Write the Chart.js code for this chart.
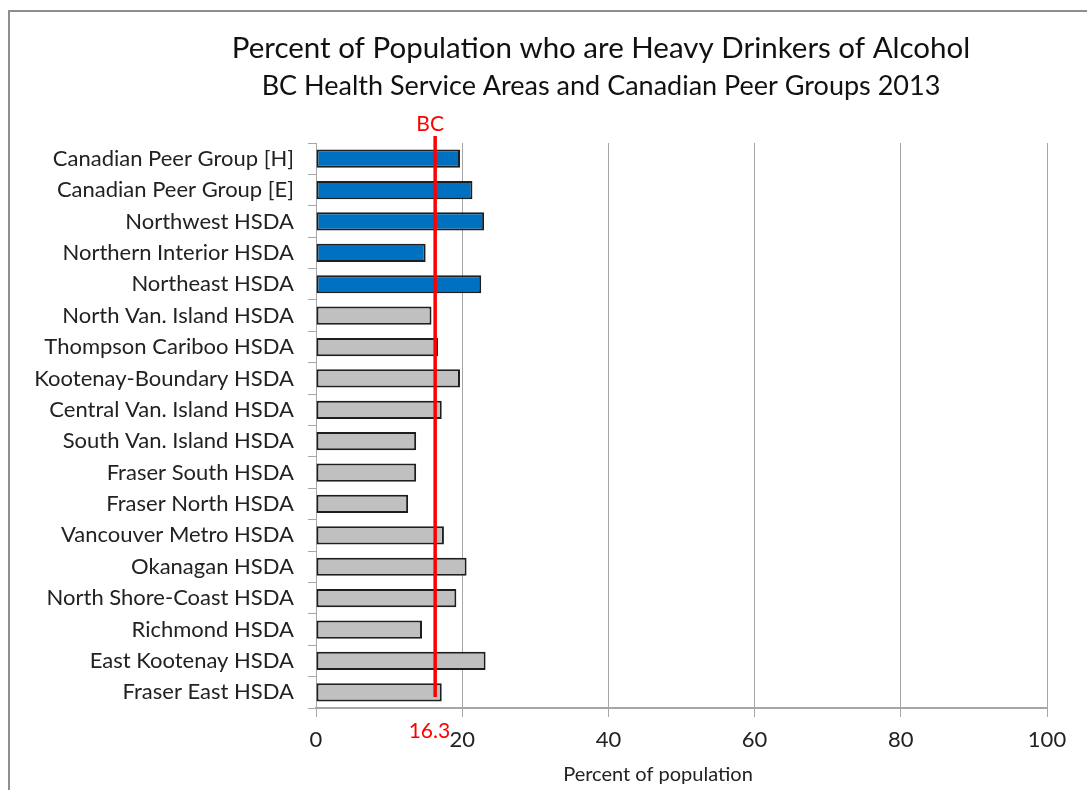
<!DOCTYPE html>
<html>
<head>
<meta charset="utf-8">
<script src="https://cdn.jsdelivr.net/npm/chart.js@4/dist/chart.umd.min.js"></script>
<style>
    html, body { margin: 0; padding: 0; background: #fff; overflow: hidden; }
    #frame { position: absolute; left: 8px; top: 10px; width: 1100px; height: 800px; border: 2px solid #8e8e8e; }
    #chartFluxo { position: absolute; left: 0; top: 0; }
</style>
</head>
<body>
<div id="frame"></div>
<canvas id="chartFluxo" width="1087" height="790"></canvas>
<script>
const regioes = [
    'Canadian Peer Group [H]', 'Canadian Peer Group [E]', 'Northwest HSDA', 'Northern Interior HSDA',
    'Northeast HSDA', 'North Van. Island HSDA', 'Thompson Cariboo HSDA', 'Kootenay-Boundary HSDA',
    'Central Van. Island HSDA', 'South Van. Island HSDA', 'Fraser South HSDA', 'Fraser North HSDA',
    'Vancouver Metro HSDA', 'Okanagan HSDA', 'North Shore-Coast HSDA', 'Richmond HSDA',
    'East Kootenay HSDA', 'Fraser East HSDA'
];
const percentuais = [19.7, 21.4, 23.0, 15.0, 22.6, 15.8, 16.7, 19.7, 17.2, 13.7, 13.7, 12.6, 17.5, 20.6, 19.2, 14.5, 23.2, 17.2];
// peer groups + northern HSDAs in blue, the rest gray
const destaque = [true, true, true, true, true, false, false, false, false, false, false, false, false, false, false, false, false, false];
const mediaBC = 16.3;
const ticksX = [0, 20, 40, 60, 80, 100];

const titulo = 'Percent of Population who are Heavy Drinkers of Alcohol';
const subtitulo = 'BC Health Service Areas and Canadian Peer Groups 2013';
const tituloEixoX = 'Percent of population';

const FONTE = "Lato, 'Open Sans', sans-serif";
const CINZA = '#a6a6a6';

// títulos desenhados à mão (o centro não é o do gráfico)
const textos = {
    id: 'textos',
    afterDraw: (chart) => {
        const ctx = chart.ctx;
        ctx.save();
        ctx.textAlign = 'center';
        ctx.textBaseline = 'middle';
        ctx.fillStyle = '#111';
        ctx.font = `29.5px ${FONTE}`;
        ctx.fillText(titulo, 601, 48);
        ctx.font = `27px ${FONTE}`;
        ctx.fillText(subtitulo, 601, 86);
        ctx.fillStyle = '#222';
        ctx.font = `20px ${FONTE}`;
        ctx.fillText(tituloEixoX, 658, 775);
        ctx.restore();
    }
};

// linha vertical vermelha do BC + rótulos
const linhaBC = {
    id: 'linhaBC',
    afterDatasetsDraw: (chart) => {
        const { ctx, chartArea, scales } = chart;
        const x = scales.x.getPixelForValue(mediaBC);
        ctx.save();
        ctx.strokeStyle = '#ff0000';
        ctx.lineWidth = 3.5;
        ctx.beginPath();
        ctx.moveTo(x, chartArea.top - 7);
        ctx.lineTo(x, chartArea.bottom - 11);
        ctx.stroke();
        ctx.fillStyle = '#ff0000';
        ctx.font = `21px ${FONTE}`;
        ctx.textBaseline = 'middle';
        ctx.textAlign = 'center';
        ctx.fillText('BC', x - 5, chartArea.top - 19);
        ctx.textAlign = 'right';
        ctx.fillText(String(mediaBC), x + 15, chartArea.bottom + 23);
        ctx.restore();
    }
};

new Chart(document.getElementById('chartFluxo'), {
    type: 'bar',
    data: {
        labels: regioes,
        datasets: [{
            data: percentuais,
            backgroundColor: destaque.map(d => d ? '#0070c0' : '#c0c0c0'),
            borderColor: '#1e1e1e',
            borderWidth: 2,
            borderSkipped: false,
            categoryPercentage: 1,
            barPercentage: 0.58
        }]
    },
    options: {
        indexAxis: 'y',
        responsive: false,
        animation: false,
        layout: { padding: { left: 0, right: 40, top: 143, bottom: 0 } },
        plugins: {
            legend: { display: false },
            tooltip: { enabled: false },
            title: { display: false }
        },
        scales: {
            x: {
                min: 0, max: 100,
                afterBuildTicks: (s) => { s.ticks = ticksX.map(v => ({ value: v })); },
                afterFit: (s) => { s.height = 82; },
                grid: { color: CINZA, lineWidth: 1, tickLength: 9, tickColor: CINZA },
                border: { color: CINZA, width: 2 },
                ticks: { color: '#222', font: { family: FONTE, size: 22 }, padding: 10 }
            },
            y: {
                afterFit: (s) => { s.width = 316; },
                grid: { drawOnChartArea: false, offset: true, tickLength: 8, color: CINZA },
                border: { color: CINZA, width: 1 },
                ticks: { color: '#222', font: { family: FONTE, size: 22 }, padding: 14, autoSkip: false }
            }
        }
    },
    plugins: [linhaBC, textos]
});
</script>
</body>
</html>
